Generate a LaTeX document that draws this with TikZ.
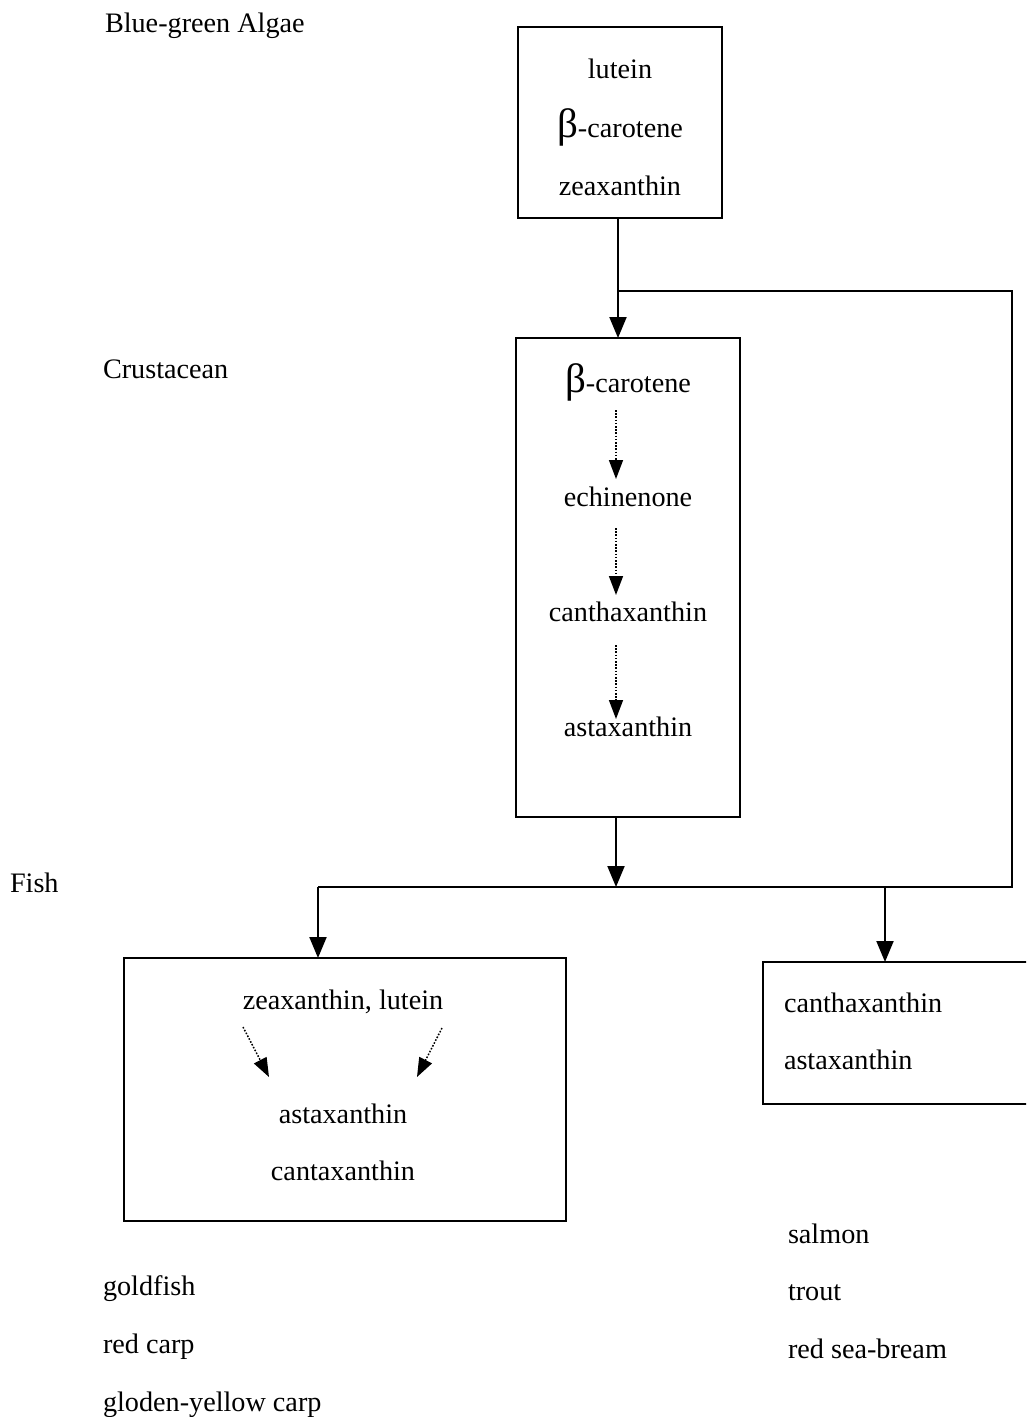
\documentclass[tikz,border=0pt]{standalone}
\usepackage{fontspec}
\setmainfont{Liberation Serif}
\usetikzlibrary{arrows.meta}
\newcommand{\bet}{{\fontsize{41}{41}\selectfont β}}
\begin{document}
\begin{tikzpicture}[x=1pt,y=-1pt,
  every node/.style={font=\fontsize{28.2}{33}\selectfont, inner sep=0pt, outer sep=0pt},
  txt/.style={anchor=base},
  lbl/.style={anchor=base west},
  boxnode/.style={draw, line width=2pt, rectangle},
  conn/.style={line width=2pt},
  arr/.style={line width=2pt, -{Triangle[width=17pt,length=21pt]}},
  darr/.style={line width=1.5pt, dash pattern=on 1.6pt off 1.6pt, -{Triangle[width=14pt,length=19pt]}}
]
\clip (0,0) rectangle (1026,1417);
\fill[white] (0,0) rectangle (1026,1417);

% boxes
\node[boxnode, minimum width=204pt, minimum height=191pt] (top) at (620,122.5) {};
\node[boxnode, minimum width=224pt, minimum height=479pt] (crust) at (628,577.5) {};
\node[boxnode, minimum width=442pt, minimum height=263pt] (fishL) at (345,1089.5) {};
\node[boxnode, minimum width=297pt, minimum height=142pt] (fishR) at (911.5,1033) {};

% top box text
\node[txt] (t1) at (620,78) {lutein};
\node[txt] (t2) at (620,137) {\bet-carotene};
\node[txt] (t3) at (620,195) {zeaxanthin};

% crustacean box text
\node[txt] (c1) at (628,392) {\bet-carotene};
\node[txt] (c2) at (628,506) {echinenone};
\node[txt] (c3) at (628,621) {canthaxanthin};
\node[txt] (c4) at (628,736) {astaxanthin};

% fish left box text
\node[txt] (f1) at (343,1009) {zeaxanthin, lutein};
\node[txt] (f2) at (343,1123) {astaxanthin};
\node[txt] (f3) at (343,1180) {cantaxanthin};

% fish right box text
\node[lbl] (r1) at (784,1012) {canthaxanthin};
\node[lbl] (r2) at (784,1069) {astaxanthin};

% side labels
\node[lbl] (la) at (105,32) {Blue-green Algae};
\node[lbl] (lc) at (103,378) {Crustacean};
\node[lbl] (lf) at (10,892) {Fish};
\node[lbl] (g1) at (103,1295) {goldfish};
\node[lbl] (g2) at (103,1353) {red carp};
\node[lbl] (g3) at (103,1411) {gloden-yellow carp};
\node[lbl] (s1) at (788,1243) {salmon};
\node[lbl] (s2) at (788,1300) {trout};
\node[lbl] (s3) at (788,1358) {red sea-bream};

% junction coordinates
\coordinate (j1) at (618,291);
\coordinate (j2) at (1012,887);
\coordinate (j3) at (616,887);
\coordinate (j4) at (318,887);
\coordinate (j5) at (885,887);

% solid connectors
\draw[arr] (top.south -| j1) -- (crust.north -| j1);
\draw[conn] (j1) -| (j2) -- (j4);
\draw[arr] (crust.south -| j3) -- (j3);
\draw[arr] (j4) -- (fishL.north -| j4);
\draw[arr] (j5) -- (fishR.north -| j5);

% dotted arrows in crustacean box
\coordinate (d1a) at (616,410); \coordinate (d1b) at (616,479);
\coordinate (d2a) at (616,528); \coordinate (d2b) at (616,595);
\coordinate (d3a) at (616,645); \coordinate (d3b) at (616,719);
\draw[darr] (d1a) -- (d1b);
\draw[darr] (d2a) -- (d2b);
\draw[darr] (d3a) -- (d3b);

% dotted arrows in fish box
\coordinate (e1a) at (243,1027); \coordinate (e1b) at (269,1077);
\coordinate (e2a) at (442,1028); \coordinate (e2b) at (417,1077);
\draw[darr] (e1a) -- (e1b);
\draw[darr] (e2a) -- (e2b);
\end{tikzpicture}
\end{document}
